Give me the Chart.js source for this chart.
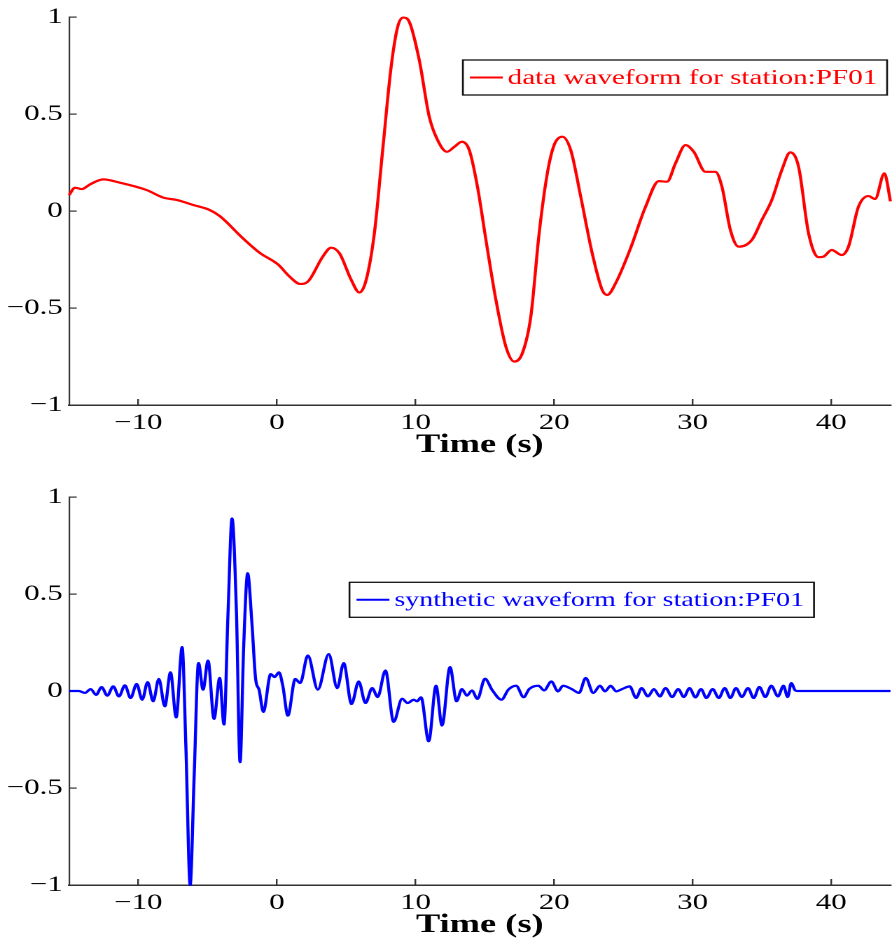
<!DOCTYPE html>
<html>
<head>
<meta charset="utf-8">
<script src="https://cdn.jsdelivr.net/npm/chart.js@4.4.0/dist/chart.umd.min.js"></script>
<style>
  html, body { margin: 0; padding: 0; background: #fff; }
  body { width: 892px; height: 940px; overflow: hidden; position: relative; }
  /* the original figure is stretched sideways, so draw narrow and widen */
  .panel { position: absolute; left: 0; width: 637px; height: 465px; transform: scaleX(1.40031); transform-origin: 0 0; }
  #top { top: 0; }
  #bottom { top: 480px; }
</style>
</head>
<body>
<div class="panel" id="top"><canvas id="dataChart"></canvas></div>
<div class="panel" id="bottom"><canvas id="synChart"></canvas></div>
<script>
// observed record, PF01
const dataTime = [-15.0, -14.57, -14.08, -13.49, -12.53, -11.33, -9.4, -8.2, -7.24, -6.04, -4.85, -4.13, -2.45, -1.25, 0.07, 0.91, 1.68, 2.23, 3.31, 3.91, 4.51, 5.36, 5.95, 6.44, 7.03, 7.63, 8.24, 8.71, 9.12, 9.55, 10.27, 10.99, 11.59, 12.27, 12.8, 13.35, 13.88, 14.47, 15.08, 15.8, 16.52, 17.12, 17.71, 18.32, 18.92, 19.51, 20.0, 20.59, 21.2, 21.92, 22.75, 23.47, 23.83, 24.44, 25.5, 26.6, 27.56, 28.15, 28.76, 29.48, 30.08, 30.92, 31.64, 32.11, 32.72, 33.32, 34.27, 34.99, 35.71, 36.43, 37.04, 37.64, 38.36, 39.08, 39.44, 40.03, 40.75, 41.24, 41.96, 42.68, 43.16, 43.83, 44.27];
const dataAmp = [0.082, 0.12, 0.113, 0.137, 0.163, 0.146, 0.108, 0.069, 0.057, 0.031, 0.005, -0.026, -0.141, -0.215, -0.275, -0.338, -0.376, -0.364, -0.235, -0.189, -0.218, -0.355, -0.42, -0.355, -0.115, 0.314, 0.743, 0.949, 0.997, 0.975, 0.778, 0.486, 0.366, 0.305, 0.331, 0.357, 0.314, 0.125, -0.149, -0.458, -0.699, -0.776, -0.733, -0.544, -0.115, 0.194, 0.34, 0.383, 0.314, 0.074, -0.218, -0.407, -0.433, -0.372, -0.195, 0.022, 0.154, 0.151, 0.246, 0.34, 0.305, 0.202, 0.202, 0.125, -0.098, -0.184, -0.149, -0.046, 0.057, 0.211, 0.302, 0.228, -0.115, -0.238, -0.235, -0.201, -0.227, -0.184, 0.022, 0.077, 0.062, 0.194, 0.05];

// synthetic, PF01
const synTime = [-15.0, -14.3, -13.85, -13.44, -13.05, -12.65, -12.24, -11.81, -11.4, -10.97, -10.56, -10.12, -9.72, -9.33, -8.93, -8.52, -8.09, -7.68, -7.27, -6.84, -6.57, -6.26, -5.98, -5.66, -5.33, -4.97, -4.54, -4.13, -3.82, -3.53, -3.24, -2.92, -2.66, -2.4, -2.11, -1.82, -1.53, -1.29, -0.98, -0.45, -0.17, 0.15, 0.43, 0.79, 1.32, 1.68, 2.23, 2.95, 3.74, 4.35, 4.82, 5.38, 5.9, 6.39, 6.87, 7.27, 7.83, 8.42, 9.03, 9.43, 9.87, 10.11, 10.4, 10.95, 11.48, 11.91, 12.49, 12.96, 13.35, 13.71, 14.07, 14.47, 15.01, 15.55, 16.2, 16.7, 17.26, 17.8, 18.2, 18.87, 19.28, 19.8, 20.28, 20.64, 21.27, 21.8, 22.28, 22.83, 23.31, 23.67, 24.08, 24.48, 24.91, 25.45, 25.92, 26.31, 26.77, 27.2, 27.63, 28.04, 28.52, 28.95, 29.36, 29.77, 30.2, 30.6, 30.99, 31.44, 31.88, 32.31, 32.72, 33.12, 33.55, 33.99, 34.4, 34.81, 35.24, 35.67, 36.15, 36.55, 36.85, 37.11, 37.4, 37.6, 44.27];
const synAmp = [0, 0, -0.01, 0.01, -0.02, 0.02, -0.024, 0.024, -0.028, 0.029, -0.036, 0.036, -0.045, 0.046, -0.053, 0.062, -0.079, 0.096, -0.136, 0.226, -0.285, -1.0, -0.456, 0.144, 0.007, 0.157, -0.144, 0.067, -0.173, 0.401, 0.889, 0.401, -0.367, 0.229, 0.607, 0.367, 0.058, 0.007, -0.108, 0.087, 0.072, 0.096, 0.024, -0.127, 0.062, 0.041, 0.183, 0.007, 0.19, 0.015, 0.144, -0.067, 0.049, -0.062, 0.015, -0.031, 0.106, -0.159, -0.04, -0.062, -0.045, -0.053, -0.033, -0.259, 0.027, -0.178, 0.123, -0.053, 0.01, -0.024, 0.003, -0.041, 0.063, 0.003, -0.045, 0.007, 0.027, -0.032, 0.01, 0.027, 0.003, 0.049, -0.002, 0.027, 0.01, -0.01, 0.067, -0.01, 0.027, -0.002, 0.027, -0.002, 0.01, 0.024, -0.036, 0.015, -0.028, 0.01, -0.028, 0.015, -0.031, 0.01, -0.031, 0.015, -0.033, 0.01, -0.036, 0.01, -0.036, 0.015, -0.036, 0.015, -0.031, 0.015, -0.036, 0.021, -0.031, 0.027, -0.028, 0.027, -0.031, 0.041, 0.003, 0, 0];

const timeTicks = [-10, 0, 10, 20, 30, 40];
const ampTicks = [-1, -0.5, 0, 0.5, 1];

const serif = 'Liberation Serif';

function minusLabel(v) {
    return v < 0 ? '\u2212' + Math.abs(v) : String(v);
}

// boxed legend sitting inside the axes, like matlab's
const legendBox = {
    id: 'legendBox',
    afterDraw(chart, args, opts) {
        const ctx = chart.ctx;
        const ds = chart.data.datasets[0];
        ctx.save();
        ctx.font = opts.size + 'px "' + serif + '"';
        const tw = ctx.measureText(ds.label).width;
        const w = 5 + 23.5 + 3.5 + tw + 7;
        const x0 = opts.right - w;
        const y0 = opts.top;
        const h = 35;
        ctx.fillStyle = '#fff';
        ctx.fillRect(x0, y0, w, h);
        ctx.strokeStyle = '#111';
        ctx.lineWidth = 1.3;
        ctx.strokeRect(x0, y0, w, h);
        ctx.strokeStyle = ds.borderColor;
        ctx.lineWidth = 2;
        ctx.beginPath();
        ctx.moveTo(x0 + 5, y0 + h / 2);
        ctx.lineTo(x0 + 28.5, y0 + h / 2);
        ctx.stroke();
        ctx.fillStyle = ds.borderColor;
        ctx.textBaseline = 'middle';
        ctx.fillText(ds.label, x0 + 32, y0 + h / 2 + 1);
        ctx.restore();
    }
};

function makeChart(id, times, amps, color, label, legendRight, legendTop, legendSize) {
    const ctx = document.getElementById(id);
    return new Chart(ctx, {
        type: 'line',
        data: {
            datasets: [{
                label: label,
                data: times.map((t, i) => ({ x: t, y: amps[i] })),
                borderColor: color,
                borderWidth: 2.2,
                pointRadius: 0,
                cubicInterpolationMode: 'monotone',
                clip: false
            }]
        },
        options: {
            responsive: true,
            maintainAspectRatio: false,
            devicePixelRatio: 2,
            animation: false,
            layout: { padding: { top: 17, left: 0, right: 0, bottom: 0 } },
            scales: {
                x: {
                    type: 'linear',
                    min: -15,
                    max: 44.27,
                    afterFit: s => { s.height = 60; s.paddingLeft = 0; s.paddingRight = 0; },
                    afterBuildTicks: s => { s.ticks = timeTicks.map(v => ({ value: v })); },
                    border: { color: '#333', width: 1.5 },
                    grid: { drawOnChartArea: false, tickLength: -6, color: '#333', lineWidth: 1.2 },
                    ticks: {
                        padding: 11, color: '#000', maxRotation: 0, autoSkip: false,
                        font: { family: serif, size: 22 },
                        callback: minusLabel
                    },
                    title: {
                        display: true, text: 'Time (s)', color: '#000',
                        font: { family: serif, size: 26, weight: 'bold' },
                        padding: { top: 0, bottom: 4 }
                    }
                },
                y: {
                    min: -1,
                    max: 1,
                    // fixed width, and no extra room for the end labels
                    afterFit: s => { s.width = 49.3; s.paddingTop = 0; s.paddingBottom = 0; },
                    afterBuildTicks: s => { s.ticks = ampTicks.map(v => ({ value: v })); },
                    border: { color: '#333', width: 1.1 },
                    grid: { drawOnChartArea: false, tickLength: -5.5, color: '#333', lineWidth: 1.2 },
                    ticks: {
                        padding: 10, color: '#000',
                        font: { family: serif, size: 22 },
                        callback: minusLabel
                    }
                }
            },
            plugins: {
                legend: { display: false },
                tooltip: { enabled: false },
                legendBox: { right: legendRight, top: legendTop, size: legendSize }
            }
        },
        plugins: [legendBox]
    });
}

makeChart('dataChart', dataTime, dataAmp, '#ff0000', 'data waveform for station:PF01', 633.5, 60, 20.8);
makeChart('synChart', synTime, synAmp, '#0000ff', 'synthetic waveform for station:PF01', 581.3, 102.3, 20);
</script>
</body>
</html>
